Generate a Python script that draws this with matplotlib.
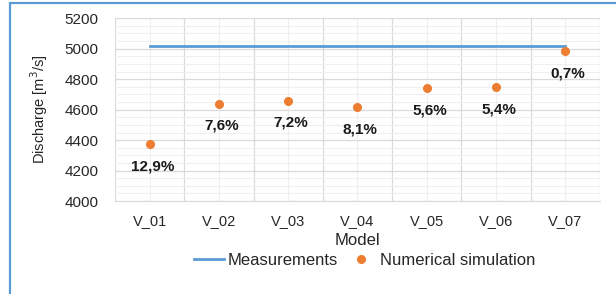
import numpy as np
import matplotlib.pyplot as plt
from matplotlib.patches import Rectangle
from matplotlib.ticker import MultipleLocator, FixedLocator

plt.rcParams['font.family'] = ['Liberation Sans', 'DejaVu Sans']

# Data
models = ["V_01", "V_02", "V_03", "V_04", "V_05", "V_06", "V_07"]
measured = [5020, 5020, 5020, 5020, 5020, 5020, 5020]
simulated = [4375, 4640, 4660, 4615, 4740, 4750, 4985]
errors = ["12,9%", "7,6%", "7,2%", "8,1%", "5,6%", "5,4%", "0,7%"]

blue = "#5B9BD5"
orange = "#ED7D31"

fig = plt.figure(figsize=(6.16, 2.94), dpi=100)
ax = fig.add_axes([0.1867, 0.316, 0.787, 0.622])

x = np.arange(len(models))
ax.plot(x, measured, color=blue, lw=2, label="Measurements", zorder=3)
ax.plot(x, simulated, 'o', color=orange, ms=5.5, label="Numerical simulation", zorder=4)

for xi, yi, t in zip(x, simulated, errors):
    ax.annotate(t, (xi, yi), xytext=(2, -16), textcoords='offset points',
                ha='center', va='center', fontsize=11, fontweight='bold', color='#1a1a1a')

ax.set_xlim(-0.5, 6.5)
ax.set_ylim(4000, 5200)
ax.yaxis.set_major_locator(MultipleLocator(200))
ax.yaxis.set_minor_locator(MultipleLocator(50))
ax.set_xticks(x)
ax.set_xticklabels(models)
ax.xaxis.set_minor_locator(FixedLocator(np.arange(-0.5, 7, 1)))

# grid: boundaries major, centers lighter
ax.grid(which='minor', axis='y', color='#EFEFEF', lw=0.8)
ax.grid(which='major', axis='y', color='#D9D9D9', lw=0.9)
ax.grid(which='minor', axis='x', color='#D9D9D9', lw=0.9)
ax.grid(which='major', axis='x', color='#EFEFEF', lw=0.8)
ax.set_axisbelow(True)

for s in ['top', 'right', 'left']:
    ax.spines[s].set_visible(False)
ax.spines['bottom'].set_color('#D9D9D9')
ax.tick_params(which='both', length=0)
ax.tick_params(axis='x', pad=9, labelsize=10.5, colors='#262626')
ax.tick_params(axis='y', pad=12, labelsize=11, colors='#262626')

ax.set_xlabel("Model", fontsize=12, color='#262626', labelpad=4)
ax.set_ylabel("Discharge [m$^3$/s]", fontsize=10.5, color='#262626', labelpad=10)

ax.legend(loc='center', bbox_to_anchor=(0.515, -0.325), ncol=2, frameon=False,
          fontsize=12, handlelength=1.8, handletextpad=0.2, columnspacing=0.5,
          labelcolor='#262626', borderpad=0)

# chart border (cropped)
fig.patches.append(Rectangle((10 / 616, -0.1), 1.2, 1.1 - 3 / 294, transform=fig.transFigure,
                             fill=False, edgecolor=blue, lw=1.6))

fig.savefig("out.png", dpi=100)
